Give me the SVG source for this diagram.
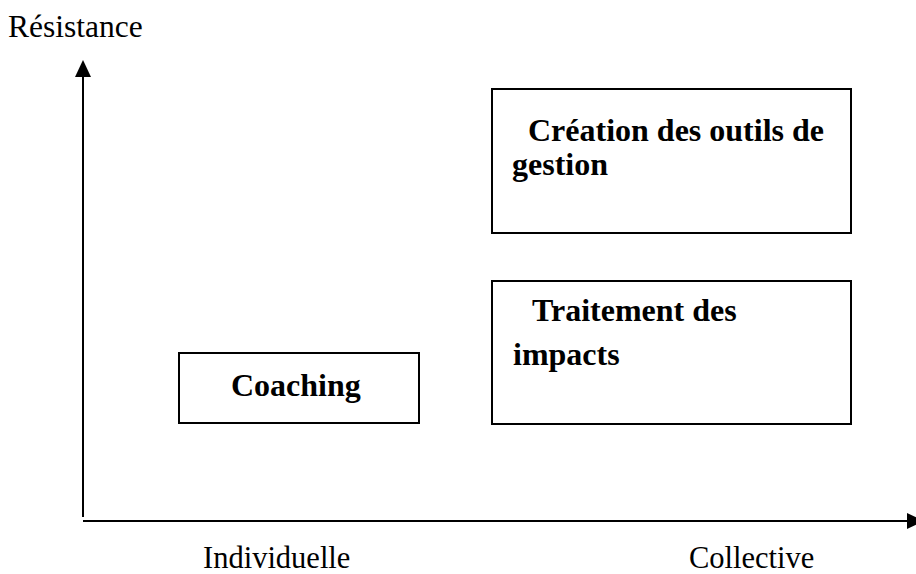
<svg xmlns="http://www.w3.org/2000/svg" width="916" height="574" viewBox="0 0 916 574">
  <style>
    .axis { stroke: #000; stroke-width: 2; fill: none; }
    .box { fill: #fff; stroke: #000; stroke-width: 2; }
    .lbl { font-family: "Liberation Serif", "Times New Roman", serif; font-size: 30.5px; fill: #000; }
    .bold { font-family: "Liberation Serif", "Times New Roman", serif; font-size: 32px; font-weight: bold; fill: #000; }
  </style>
  <defs>
    <marker id="head" markerWidth="10" markerHeight="10" refX="0" refY="4" orient="auto" markerUnits="strokeWidth">
      <path d="M0,0 L8.5,4 L0,8 Z" fill="#000"/>
    </marker>
  </defs>

  <g id="connectors">
    <!-- vertical axis: résistance -->
    <line class="axis" x1="83" y1="517" x2="83" y2="77" marker-end="url(#head)"/>
    <!-- horizontal axis: individuelle / collective -->
    <line class="axis" x1="83" y1="521" x2="907" y2="521" marker-end="url(#head)"/>
  </g>

  <g id="axis-labels">
    <text class="lbl" x="8" y="37" style="font-size:31.5px">Résistance</text>
    <text class="lbl" x="203" y="568">Individuelle</text>
    <text class="lbl" x="689" y="568">Collective</text>
  </g>

  <g id="node-outils">
    <rect class="box" x="492" y="89" width="359" height="144"/>
    <text class="bold" x="528" y="141">Création des outils de</text>
    <text class="bold" x="512" y="175">gestion</text>
  </g>

  <g id="node-impacts">
    <rect class="box" x="492" y="281" width="359" height="143"/>
    <text class="bold" x="532" y="321">Traitement des</text>
    <text class="bold" x="513" y="365">impacts</text>
  </g>

  <g id="node-coaching">
    <rect class="box" x="179" y="353" width="240" height="70"/>
    <text class="bold" x="231" y="396">Coaching</text>
  </g>
</svg>
